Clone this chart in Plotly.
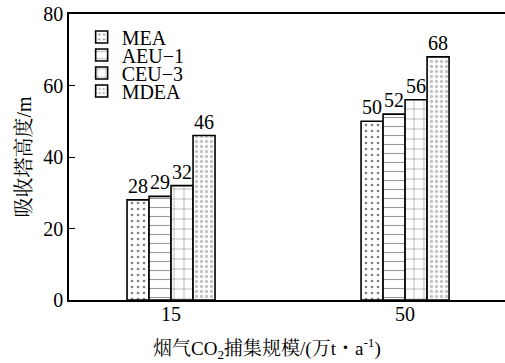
import plotly.graph_objects as go

categories = ["15", "50"]
series_names = ["MEA", "AEU−1", "CEU−3", "MDEA"]
mea = [28, 50]
aeu = [29, 52]
ceu = [32, 56]
mdea = [46, 68]
y_ticks = [0, 20, 40, 60, 80]

values = [mea, aeu, ceu, mdea]
patterns = [
    dict(shape=".", size=6, solidity=0.15, fgcolor="black", bgcolor="white"),
    dict(shape="-", size=9, solidity=0.12, fgcolor="#333", bgcolor="white"),
    dict(shape="+", size=10, solidity=0.1, fgcolor="black", bgcolor="white"),
    dict(shape=".", size=5, solidity=0.35, fgcolor="#888", bgcolor="white"),
]

FONT = "Times New Roman, Liberation Serif, DejaVu Serif, serif"
CJK = "Times New Roman, Liberation Serif, Noto Serif CJK SC, Noto Sans CJK SC, serif"

H = 286  # plot height px
T = 14
legend_ids = ["legend", "legend2", "legend3", "legend4"]
legend_rows_px = [37, 55, 73, 91]

fig = go.Figure()
for name, vals, pat, lid in zip(series_names, values, patterns, legend_ids):
    fig.add_trace(go.Bar(
        x=categories, y=vals, name=name, legend=lid,
        marker=dict(color="white", pattern=pat, line=dict(color="black", width=1.6)),
        text=[str(v) for v in vals], textposition="outside",
        textfont=dict(family=FONT, size=20, color="black"),
        constraintext="none", cliponaxis=False,
    ))

legends = {}
for lid, py in zip(legend_ids, legend_rows_px):
    legends[lid] = dict(x=0.029, y=1 - (py - T) / H, xanchor="left", yanchor="middle",
                        bgcolor="rgba(0,0,0,0)", font=dict(size=20, family=FONT),
                        itemwidth=30)

fig.update_layout(
    width=505, height=363,
    margin=dict(l=69, r=0, t=T, b=63),
    paper_bgcolor="white", plot_bgcolor="white",
    barmode="group", bargap=0.624, bargroupgap=0,
    font=dict(family=FONT, size=19, color="black"),
    showlegend=True,
    xaxis=dict(type="category", range=[-0.436, 1.427],
               showline=True, linecolor="black", linewidth=1.5, mirror=True,
               ticks="", tickfont=dict(size=20, family=FONT), showgrid=False,
               ticklabelstandoff=-5),
    yaxis=dict(range=[0, 80], tickvals=y_ticks,
               showline=True, linecolor="black", linewidth=1.5, mirror=False,
               ticks="inside", ticklen=6, tickcolor="black", showgrid=False,
               zeroline=False, tickfont=dict(size=20, family=FONT),
               title=dict(text="吸收塔高度/m", font=dict(size=20, family=CJK), standoff=6)),
    annotations=[dict(
        text="烟气CO<sub>2</sub>捕集规模/(万t・a<sup>-1</sup>)",
        xref="paper", yref="paper", x=(267 - 69) / 436, y=-48 / H,
        xanchor="center", yanchor="middle", showarrow=False,
        font=dict(size=19, family=CJK))],
    **legends,
)

fig.write_html("out.html")
